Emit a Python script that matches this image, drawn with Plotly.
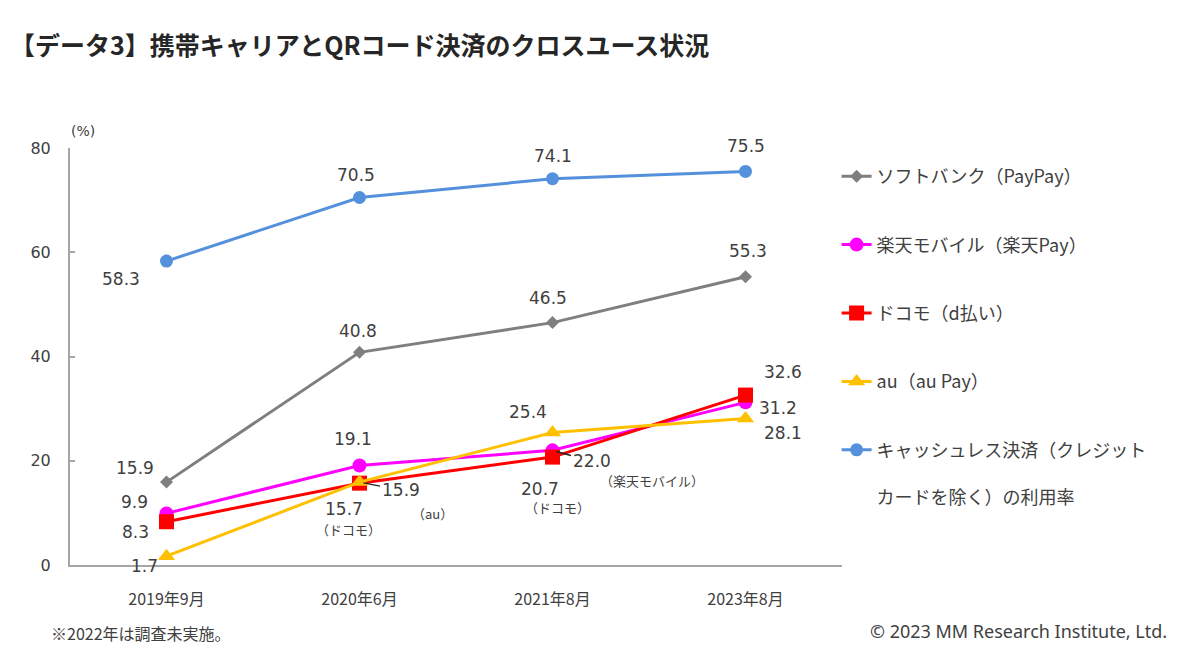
import plotly.graph_objects as go

periods = ["2019年9月", "2020年6月", "2021年8月", "2023年8月"]
softbank = [15.9, 40.8, 46.5, 55.3]
rakuten = [9.9, 19.1, 22.0, 31.2]
docomo = [8.3, 15.7, 20.7, 32.6]
au = [1.7, 15.9, 25.4, 28.1]
cashless = [58.3, 70.5, 74.1, 75.5]

names = {
    "sb": "ソフトバンク（PayPay）",
    "rk": "楽天モバイル（楽天Pay）",
    "dc": "ドコモ（d払い）",
    "au": "au（au Pay）",
    "cl": "キャッシュレス決済（クレジット<br><br>カードを除く）の利用率",
}

NUM = "DejaVu Sans, Noto Sans CJK JP"
JP = "Noto Sans CJK JP"
TXT = "#404040"

fig = go.Figure()

def add(key, vals, color, symbol, size, rank, width=3):
    fig.add_trace(go.Scatter(
        x=periods, y=vals, name=names[key], mode="lines+markers",
        line=dict(color=color, width=width),
        marker=dict(color=color, symbol=symbol, size=size),
        legendrank=rank, legendgroup=key,
    ))

add("cl", cashless, "#5590DC", "circle", 13, 5)
add("sb", softbank, "#7F7F7F", "diamond", 10, 1)
add("rk", rakuten, "#FF00FF", "circle", 14, 2)
add("dc", docomo, "#FF0000", "square", 15, 3)
add("au", au, "#FFC000", "triangle-up", 15, 4)

# data labels: (series values, index, xshift, yshift)
labels = [
    (cashless, 0, -46, -18), (cashless, 1, -4, 23), (cashless, 2, 0, 23), (cashless, 3, 0, 25),
    (softbank, 0, -32, 14), (softbank, 1, -2, 21), (softbank, 2, -5, 25), (softbank, 3, 2, 26),
    (rakuten, 0, -32, 11), (docomo, 0, -31, -10), (au, 0, -22, -10),
    (rakuten, 1, -7, 26), (docomo, 1, -16, -26),
    (au, 2, -25, 21), (docomo, 2, -13, -32),
    (docomo, 3, 37, 23), (rakuten, 3, 32, -6), (au, 3, 37, -14),
]
for vals, i, xs, ys in labels:
    fig.add_annotation(x=periods[i], y=vals[i], text=f"{vals[i]:.1f}", showarrow=False,
                       xshift=xs, yshift=ys, font=dict(family=NUM, size=17, color=TXT))

# labels with leader lines
for vals, i, ax, ay in [(au, 1, 41, 8), (rakuten, 2, 39, 11)]:
    fig.add_annotation(x=periods[i], y=vals[i], text=f"{vals[i]:.1f}", showarrow=True,
                       arrowhead=0, arrowwidth=1.5, arrowcolor="#262626", ax=ax, ay=ay,
                       standoff=4, font=dict(family=NUM, size=17, color=TXT))

# small series notes
notes = [
    (docomo, 1, "（ドコモ）", -11, -46),
    (au, 1, "（au）", 73, -31),
    (rakuten, 2, "（楽天モバイル）", 99, -30),
    (docomo, 2, "（ドコモ）", 5, -50),
]
for vals, i, t, xs, ys in notes:
    fig.add_annotation(x=periods[i], y=vals[i], text=t, showarrow=False,
                       xshift=xs, yshift=ys, font=dict(family=JP, size=13, color=TXT))

fig.add_annotation(xref="paper", yref="paper", x=0.017, y=1.0, yshift=27, text="(%)",
                   showarrow=False, xanchor="center", font=dict(family=NUM, size=14, color=TXT))

fig.add_annotation(xref="paper", yref="paper", x=-0.080, y=1.0, yshift=124,
                   text="<b>【データ3】携帯キャリアとQRコード決済のクロスユース状況</b>",
                   showarrow=False, xanchor="left", font=dict(family=JP, size=25, color="#262626"))
fig.add_annotation(xref="paper", yref="paper", x=-0.027, y=0, yshift=-82,
                   text="※2022年は調査未実施。", showarrow=False, xanchor="left",
                   font=dict(family=JP, size=16, color=TXT))
fig.add_annotation(xref="paper", yref="paper", x=1.423, y=0, yshift=-80,
                   text="© 2023 MM Research Institute, Ltd.", showarrow=False, xanchor="right",
                   font=dict(family="Noto Sans", size=18, color=TXT))

fig.update_layout(
    width=1200, height=663,
    margin=dict(l=70, r=358, t=148, b=98),
    plot_bgcolor="white", paper_bgcolor="white",
    showlegend=True,
    legend=dict(x=0.993, y=0.976, yanchor="top", xanchor="left", valign="top",
                font=dict(family=JP, size=18, color=TXT), tracegroupgap=42,
                itemwidth=30, bgcolor="rgba(0,0,0,0)"),
    xaxis=dict(range=[-0.5, 3.5], showgrid=False, showline=True, linecolor="#A6A6A6", linewidth=2,
               ticks="", tickfont=dict(family=JP, size=16, color=TXT), ticklabelstandoff=19,
               fixedrange=True),
    yaxis=dict(range=[0, 80], dtick=20, showgrid=False, zeroline=False, showline=True,
               linecolor="#A6A6A6", linewidth=2, ticks="inside", ticklen=5, tickcolor="#A6A6A6",
               tickwidth=2, tickfont=dict(family=NUM, size=16, color=TXT), ticklabelstandoff=14),
)

fig.write_html("out.html")
